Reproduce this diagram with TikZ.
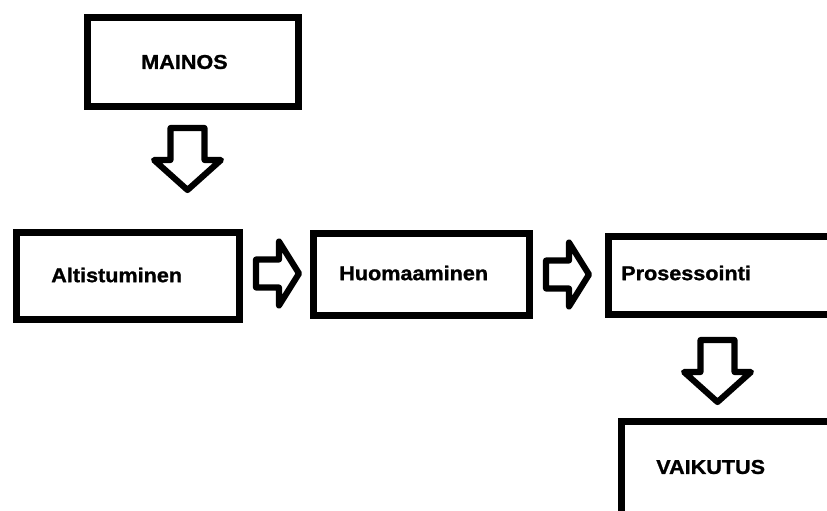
\documentclass[tikz,border=0pt]{standalone}
\usepackage{fontspec}
\setmainfont{Liberation Sans}
\newfontfamily\lblfont[FakeStretch=1.08,FakeBold=1.2]{Liberation Sans}
\begin{document}
\begin{tikzpicture}[x=0.75pt,y=-0.75pt,
  boxline/.style={draw=black,line width=5.25pt,line join=miter},
  blockarrow/.style={draw=black,fill=white,line width=4.6pt,line join=round},
  lbl/.style={font=\lblfont\bfseries\fontsize{15}{18}\selectfont,anchor=west,inner sep=0pt},
  downarrow/.pic={\path[blockarrow] (-17,0) -- (17,0) -- (17,32) -- (33.5,32) -- (0,62) -- (-33.5,32) -- (-17,32) -- cycle;},
  rightarrow/.pic={\path[blockarrow] (0,-14) -- (23,-14) -- (23,-32) -- (43,0) -- (23,32) -- (23,14) -- (0,14) -- cycle;}
]
\useasboundingbox (0,0) rectangle (827,510);
\clip (0,0) rectangle (827,510);
% boxes
\draw[boxline] (87.5,17.5) rectangle (298.5,106.5);
\draw[boxline] (16.5,232.5) rectangle (239.5,319.5);
\draw[boxline] (313.5,233.5) rectangle (529.5,315.5);
\draw[boxline] (608.5,236.5) rectangle (845,314.5);
\draw[boxline] (621.5,421.5) rectangle (845,530);
% labels
\node[lbl] (mainos) at (141,62) {MAINOS};
\node[lbl] (alt) at (51,275) {Altistuminen};
\node[lbl] (huom) at (339,273) {Huomaaminen};
\node[lbl] (pros) at (621,273) {Prosessointi};
\node[lbl] (vaik) at (656,467) {VAIKUTUS};
% block arrows
\coordinate (a1) at (187.5,128);
\coordinate (a2) at (256,273.5);
\coordinate (a3) at (546,274.5);
\coordinate (a4) at (717.5,340);
\pic at (a1) {downarrow};
\pic at (a2) {rightarrow};
\pic at (a3) {rightarrow};
\pic at (a4) {downarrow};
\end{tikzpicture}
\end{document}
